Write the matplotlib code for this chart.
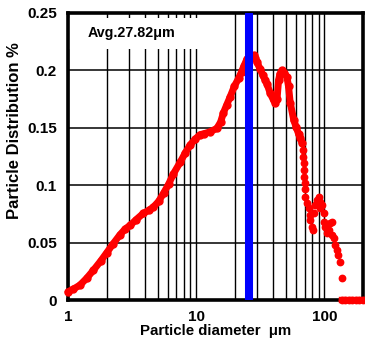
import matplotlib
matplotlib.use("Agg")
import matplotlib.pyplot as plt
from matplotlib.patches import Rectangle
from matplotlib.ticker import FixedLocator, NullFormatter

# Particle size distribution.
# Dense part of the curve (drawn as a thick band of dots).
size_main = [1.0, 1.1, 1.24, 1.4, 1.58, 1.8, 2.0, 2.25, 2.55, 2.8, 3.05,
             3.4, 3.87, 4.25, 4.64, 5.1, 5.56, 6.1, 6.65, 7.5, 8.2, 8.95,
             9.8, 10.7, 11.6, 12.8, 14.5, 15.5, 16.3, 17.3, 18.4, 19.8,
             21.4, 22.6, 23.6, 24.9, 26.5, 28.0, 29.0, 29.8, 31.6, 33.0,
             34.5, 35.7, 37.8, 40.1, 41.5, 42.7, 43.9, 45.0, 46.6, 48.5,
             51.0, 52.5, 54.1, 57.6, 60.0, 63.0, 65.0, 66.8]
dist_main = [0.0072, 0.0095, 0.013, 0.019, 0.026, 0.034, 0.041, 0.049,
             0.057, 0.062, 0.065, 0.070, 0.0755, 0.078, 0.081, 0.086,
             0.093, 0.101, 0.110, 0.120, 0.128, 0.135, 0.140, 0.144,
             0.145, 0.1465, 0.1495, 0.155, 0.163, 0.170, 0.177, 0.186,
             0.193, 0.199, 0.204, 0.210, 0.212, 0.213, 0.211, 0.207,
             0.201, 0.196, 0.1915, 0.188, 0.180, 0.174, 0.172, 0.175,
             0.1915, 0.197, 0.200, 0.198, 0.1945, 0.186, 0.172, 0.157,
             0.151, 0.1445, 0.141, 0.137]

# Scattered tail of the distribution.
size_tail = [67.5, 68.2, 68.8, 69.3, 69.8, 70.2, 70.6, 71.1, 73.3, 75.4,
             76.7, 77.6, 80.1, 81.5, 82.4, 84.9, 87.6, 90.1, 93.0, 93.0,
             95.8, 98.7, 98.7, 101.7, 104.8, 107.9, 111.2, 114.5, 114.5,
             118.0, 121.6, 125.4, 128.6, 133.0, 137.0]
dist_tail = [0.131, 0.125, 0.119, 0.113, 0.107, 0.102, 0.097, 0.090,
             0.0842, 0.0799, 0.074, 0.0697, 0.0639, 0.061, 0.0755, 0.0828,
             0.087, 0.090, 0.0856, 0.0799, 0.0828, 0.0755, 0.068, 0.064,
             0.058, 0.061, 0.0668, 0.068, 0.0566, 0.0537, 0.048, 0.0435,
             0.039, 0.033, 0.019]

# Coarse end of the range, all zero.
size_zero = [137, 145, 155, 165, 175, 185, 200]
dist_zero = [0, 0, 0, 0, 0, 0, 0]

avg_size = 26.0          # where the average marker sits on the plot
avg_label = "Avg.27.82μm"

x_ticks = [1, 10, 100]
x_ticklabels = ["1", "10", "100"]
y_ticks = [0, 0.05, 0.1, 0.15, 0.2, 0.25]
y_ticklabels = ["0", "0.05", "0.1", "0.15", "0.2", "0.25"]

plt.rcParams["font.family"] = ["Liberation Sans", "DejaVu Sans"]
plt.rcParams["font.weight"] = "bold"

fig = plt.figure(figsize=(3.65, 3.38), dpi=100)
ax = fig.add_axes([68 / 365, 1 - 300 / 338, 295 / 365, 287 / 338])

red = "#ff0000"
ax.plot(size_main, dist_main, color=red, lw=5.0, marker="o", ms=5.0,
        solid_capstyle="round", zorder=3, clip_on=False)
ax.plot(size_tail, dist_tail, ls="none", color=red, marker="o", ms=4.6,
        zorder=3)
ax.plot(size_zero, dist_zero, color=red, lw=4.6, marker="o", ms=4.6,
        zorder=5, clip_on=False)
ax.axvline(avg_size, color="#0000ff", lw=5.8, zorder=4)

ax.set_xscale("log")
ax.set_xlim(1, 200)
ax.set_ylim(0, 0.25)

ax.xaxis.set_major_locator(FixedLocator(x_ticks))
ax.set_xticklabels(x_ticklabels)
minor = [m * d for d in (1, 10) for m in range(2, 10)]
ax.xaxis.set_minor_locator(FixedLocator(minor))
ax.xaxis.set_minor_formatter(NullFormatter())
ax.set_yticks(y_ticks)
ax.set_yticklabels(y_ticklabels)

ax.grid(True, which="both", axis="x", color="black", lw=1.0)
ax.grid(True, which="major", axis="y", color="black", lw=1.1)
ax.set_axisbelow(True)
ax.tick_params(which="both", length=0, labelsize=11)
ax.tick_params(axis="x", pad=7)
ax.tick_params(axis="y", pad=8)

for s in ax.spines.values():
    s.set_linewidth(2.6)
    s.set_zorder(2.5)

# white label box hides the gridlines behind the average text
ax.add_patch(Rectangle((0.004, 0.875), 0.45, 0.108, transform=ax.transAxes,
                       facecolor="white", edgecolor="none", zorder=1))
ax.text(0.215, 0.93, avg_label, transform=ax.transAxes, ha="center",
        va="center", fontsize=10.3, fontweight="bold", zorder=3)

ax.set_xlabel("Particle diameter  μm", fontsize=10.8, fontweight="bold")
ax.xaxis.set_label_coords(0.5, -0.085)
ax.set_ylabel("Particle Distribution %", fontsize=12, fontweight="bold")
ax.yaxis.set_label_coords(-0.155, 0.59)

fig.savefig("out.png", dpi=100)
